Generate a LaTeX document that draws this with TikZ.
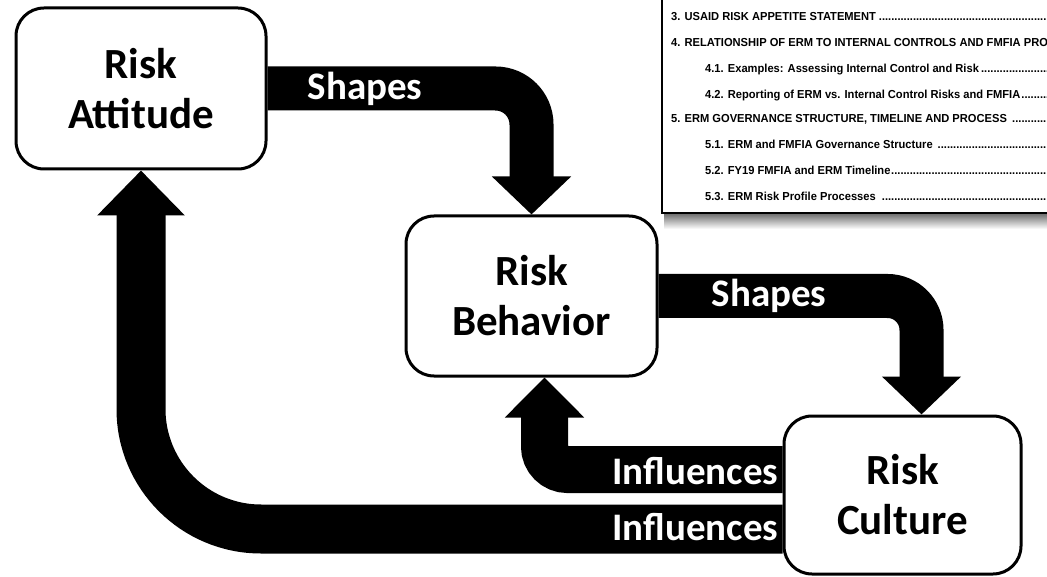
\documentclass[tikz,border=0pt]{standalone}
\usepackage{fontspec}
\setmainfont{Carlito}
\newfontfamily\tocfont[FakeStretch=0.96]{Liberation Sans}
\usetikzlibrary{arrows.meta}

\newcommand{\tocrow}[1]{\makebox[420pt][l]{#1\leaders\hbox to 3.1pt{\hss.\hss}\hfill}}

\begin{document}
\begin{tikzpicture}[x=1pt,y=-1pt,
    box/.style={draw, line width=3pt, rounded corners=28pt, fill=white, align=center,
      font=\fontsize{43}{50}\selectfont\bfseries},
    flow/.style={line width=#1, draw=black},
    flowlabel/.style={text=white, inner sep=0pt, font=\fontsize{39}{39}\selectfont\bfseries},
    tocline/.style={anchor=base west, inner sep=0pt, font=\tocfont\fontsize{11.6}{12}\selectfont\bfseries}]
    \useasboundingbox (0,0) rectangle (1047,577);

    % the three boxes
    \node[box, minimum width=250pt, minimum height=161pt] (att) at (141,88.5) {Risk\\Attitude};
    \node[box, minimum width=251pt, minimum height=160pt] (beh) at (531.5,296) {Risk\\Behavior};
    \node[box, minimum width=237pt, minimum height=158pt] (cul) at (902.5,495) {Risk\\Culture};

    % shapes
    \draw[flow=44pt, rounded corners=36pt, -{Triangle[width=77pt,length=38pt]}]
      (att.east) -| (beh.north);
    \draw[flow=44pt, rounded corners=34pt, -{Triangle[width=77pt,length=38pt]}]
      (beh.east) -| ([xshift=19pt]cul.north);
    \node[flowlabel, anchor=west] (shp1) at ([xshift=40pt]att.east) {Shapes};
    \node[flowlabel, anchor=west] (shp2) at ([xshift=53pt]beh.east) {Shapes};

    % influences
    \draw[flow=47pt, rounded corners=23pt, -{Triangle[width=77pt,length=40pt]}]
      ([yshift=25.5pt]cul.west) -| ([xshift=13pt]beh.south);
    \draw[flow=49pt, rounded corners=120pt, -{Triangle[width=85pt,length=45pt]}]
      ([yshift=-34pt]cul.west) -| (att.south);
    \node[flowlabel, anchor=east] (inf1) at ([xshift=-4pt,yshift=24pt]cul.west) {Influences};
    \node[flowlabel, anchor=east] (inf2) at ([xshift=-4pt,yshift=-32pt]cul.west) {Influences};

    % contents page pasted on top
    \begin{scope}
      \clip (0,0) rectangle (1047,577);
      \shade[top color=black!55, bottom color=white] (664,214) rectangle (1047,229);
      \draw[line width=2.5pt, fill=white] (662,-10) rectangle (1060,213);
      \node[tocline] (toc3) at (671,21) {\tocrow{3. USAID RISK APPETITE STATEMENT}};
      \node[tocline] (toc4) at (671,47) {4. RELATIONSHIP OF ERM TO INTERNAL CONTROLS AND FMFIA PROCESSES};
      \node[tocline] (toc41) at (705,73) {\tocrow{4.1. Examples: Assessing Internal Control and Risk}};
      \node[tocline] (toc42) at (705,99) {\tocrow{4.2. Reporting of ERM vs. Internal Control Risks and FMFIA}};
      \node[tocline] (toc5) at (671,123) {\tocrow{5. ERM GOVERNANCE STRUCTURE, TIMELINE AND PROCESS }};
      \node[tocline] (toc51) at (705,149) {\tocrow{5.1. ERM and FMFIA Governance Structure }};
      \node[tocline] (toc52) at (705,175) {\tocrow{5.2. FY19 FMFIA and ERM Timeline}};
      \node[tocline] (toc53) at (705,201) {\tocrow{5.3. ERM Risk Profile Processes }};
    \end{scope}
  \end{tikzpicture}
\end{document}
